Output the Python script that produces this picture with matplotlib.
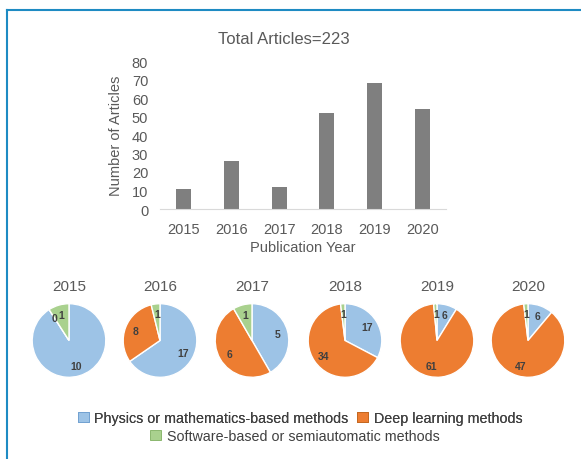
import matplotlib
matplotlib.use("Agg")
import matplotlib.pyplot as plt
from matplotlib.patches import Patch
from matplotlib.lines import Line2D

plt.rcParams['font.family'] = ['Liberation Sans', 'DejaVu Sans']

years = ['2015', '2016', '2017', '2018', '2019', '2020']
totals = [11, 26, 12, 52, 68, 54]
physics = [10, 17, 5, 17, 6, 6]
deep = [0, 8, 6, 34, 61, 47]
software = [1, 1, 1, 1, 1, 1]
categories = ['Physics or mathematics-based methods', 'Deep learning methods',
              'Software-based or semiautomatic methods']
colors = ['#9DC3E6', '#ED7D31', '#A9D18E']
text_color = '#595959'

W, H = 581, 460
fig = plt.figure(figsize=(W / 100, H / 100), dpi=100)
fig.patch.set_facecolor('white')

def px_axes(x0, y0, x1, y1):
    return fig.add_axes([x0 / W, 1 - y1 / H, (x1 - x0) / W, (y1 - y0) / H])

# Bar chart
ax = px_axes(160, 62, 446, 210)
ax.bar(years, totals, width=0.31, color='#7F7F7F')
ax.set_ylim(0, 80)
ax.set_yticks(range(0, 81, 10))
ax.set_xlim(-0.5, 5.5)
for s in ['top', 'right', 'left']:
    ax.spines[s].set_visible(False)
ax.spines['bottom'].set_color('#D9D9D9')
ax.tick_params(axis='both', length=0, labelsize=10.5, colors=text_color)
ax.tick_params(axis='x', pad=9)
ax.tick_params(axis='y', pad=8.5)
ax.set_xlabel('Publication Year', fontsize=10.5, color=text_color, labelpad=3)
ax.set_ylabel('Number of Articles', fontsize=10.5, color=text_color, labelpad=6)
fig.text(284 / W, 1 - 39 / H, 'Total Articles=223', fontsize=12, color=text_color,
         ha='center', va='center')

# Pies
centers = [69, 160, 252, 345, 437, 528]
cy, r = 341.5, 36.8
for i, yr in enumerate(years):
    cx = centers[i]
    pax = px_axes(cx - r, cy - r, cx + r, cy + r)
    vals = [physics[i], deep[i], software[i]]
    tot = sum(vals)
    pax.pie(vals, colors=colors, startangle=90, counterclock=False,
            radius=1, pctdistance=0.72,
            autopct=lambda p, t=tot: f'{round(p * t / 100)}',
            wedgeprops=dict(edgecolor='white', linewidth=1),
            textprops=dict(fontsize=7.5, fontweight='bold', color='#404040'))
    pax.set_xlim(-1, 1)
    pax.set_ylim(-1, 1)
    pax.set_aspect('equal')
    pax.axis('off')
    fig.text(cx / W, 1 - 287 / H, yr, fontsize=11, color=text_color,
             ha='center', va='center')

# Legend
edge_cols = ['#6F9FCF', '#C0651F', '#7FAF60']
h = [Patch(facecolor=c, edgecolor=e, linewidth=0.6) for c, e in zip(colors, edge_cols)]
leg_kw = dict(frameon=False, fontsize=10.3, handlelength=0.75, handleheight=0.75,
              handletextpad=0.4, labelcolor='#404040', loc='center')
leg1 = fig.legend(h[:2], categories[:2], ncol=2, columnspacing=0.6,
                  bbox_to_anchor=(300 / W, 1 - 419 / H), **leg_kw)
fig.add_artist(leg1)
fig.legend(h[2:], categories[2:], bbox_to_anchor=(295 / W, 1 - 437 / H), **leg_kw)

# Border
bc = '#1E8BC3'
fig.add_artist(Line2D([7 / W, 1], [1 - 11 / H, 1 - 11 / H], color=bc, linewidth=1.5,
                      transform=fig.transFigure))
fig.add_artist(Line2D([7 / W, 7 / W], [0, 1 - 11 / H], color=bc, linewidth=1.5,
                      transform=fig.transFigure))

fig.savefig('out.png', dpi=100)
